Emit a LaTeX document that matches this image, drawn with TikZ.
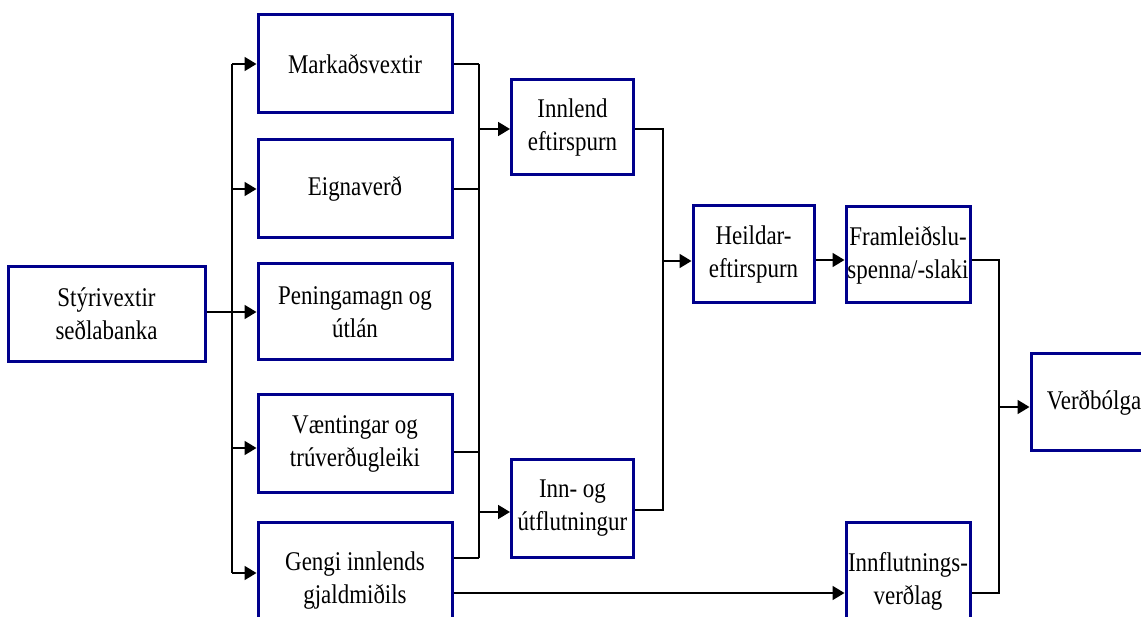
\documentclass[tikz,border=0pt]{standalone}
\usepackage{fontspec}
\newfontfamily\tfont[FakeStretch=0.85]{Liberation Serif}
\usetikzlibrary{arrows.meta}
\definecolor{boxblue}{RGB}{0,0,140}
\begin{document}
\begin{tikzpicture}[x=1pt,y=-1pt,
  box/.style={draw=boxblue, line width=3pt, fill=white, inner sep=0pt, align=center,
    font=\tfont\fontsize{27}{33}\selectfont},
  wire/.style={line width=1.8pt, draw=black},
  arr/.style={wire, -{Triangle[length=12pt,width=14pt]}}]
\useasboundingbox (0,0) rectangle (1141,617);
\clip (0,0) rectangle (1141,617);

% boxes
\node[box, minimum width=197pt, minimum height=95pt] (sty) at (106.5,314) {Stýrivextir\\seðlabanka};
\node[box, minimum width=194pt, minimum height=98pt] (m1) at (355,64) {Markaðsvextir};
\node[box, minimum width=194pt, minimum height=98pt] (m2) at (355,189) {Eignaverð};
\node[box, minimum width=194pt, minimum height=96pt] (m3) at (355,312) {Peningamagn og\\útlán};
\node[box, minimum width=194pt, minimum height=97pt] (m4) at (355,443.5) {Væntingar og\\trúverðugleiki};
\node[box, minimum width=194pt, minimum height=118pt] (m5) at (355,581) {Gengi innlends\\gjaldmiðils};
\node[box, minimum width=122pt, minimum height=95pt] (ie) at (572.5,127.5) {Innlend\\eftirspurn};
\node[box, minimum width=122pt, minimum height=97pt] (iu) at (572.5,508.5) {Inn- og\\útflutningur};
\node[box, minimum width=121pt, minimum height=97pt] (heil) at (753.5,254.5) {Heildar-\\eftirspurn};
\node[box, minimum width=124pt, minimum height=96pt] (fram) at (908,255) {Framleiðslu-\\spenna/-slaki};
\node[box, minimum width=124pt, minimum height=118pt] (infl) at (908,581) {Innflutnings-\\verðlag};
\node[box, minimum width=126pt, minimum height=97pt] (verd) at (1094,402.5) {Verðbólga};

% bus coordinates
\coordinate (a1) at (232,64);
\coordinate (a2) at (232,189);
\coordinate (a3) at (232,312);
\coordinate (a4) at (232,448);
\coordinate (a5) at (232,573);

\coordinate (b1) at (479,64);
\coordinate (b2) at (479,189);
\coordinate (bi) at (479,129);
\coordinate (b4) at (479,452);
\coordinate (b5) at (479,558);
\coordinate (bu) at (479,512);

\coordinate (c1) at (663,129);
\coordinate (c2) at (663,510);
\coordinate (ch) at (663,261);

\coordinate (d1) at (999,260);
\coordinate (d2) at (999,593);
\coordinate (dv) at (999,407);

% first fan-out
\draw[arr] (sty.east |- a3) -- (m3.west |- a3);
\draw[wire] (a1) -- (a5);
\draw[arr] (a1) -- (m1.west |- a1);
\draw[arr] (a2) -- (m2.west |- a2);
\draw[arr] (a4) -- (m4.west |- a4);
\draw[arr] (a5) -- (m5.west |- a5);

% second stage
\draw[wire] (m1.east |- b1) -- (b1);
\draw[wire] (m2.east |- b2) -- (b2);
\draw[wire] (m4.east |- b4) -- (b4);
\draw[wire] (m5.east |- b5) -- (b5);
\draw[wire] (b1) -- (b5);
\draw[arr] (bi) -- (ie.west |- bi);
\draw[arr] (bu) -- (iu.west |- bu);

% third stage
\draw[wire] (ie.east |- c1) -- (c1) -- (c2) -- (iu.east |- c2);
\draw[arr] (ch) -- (heil.west |- ch);
\draw[arr] (heil.east |- d1) -- (fram.west |- d1);

% import prices
\draw[arr] (m5.east |- d2) -- (infl.west |- d2);

% final stage
\draw[wire] (fram.east |- d1) -- (d1) -- (d2) -- (infl.east |- d2);
\draw[arr] (dv) -- (verd.west |- dv);
\end{tikzpicture}
\end{document}
